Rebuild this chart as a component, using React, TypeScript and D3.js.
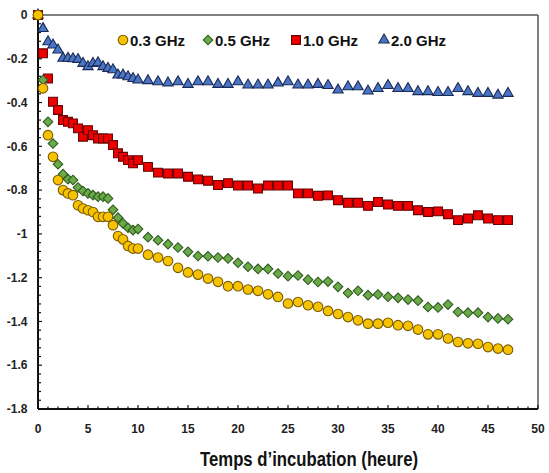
import React from "react";
import * as d3 from "d3";

const times: number[] = [
  0, 0.5, 1, 1.5, 2, 2.5, 3, 3.5, 4, 4.5, 5, 5.5, 6, 6.5, 7, 7.5, 8, 8.5, 9, 9.5, 10,
  11, 12, 13, 14, 15, 16, 17, 18, 19, 20, 21, 22, 23, 24, 25, 26, 27, 28, 29, 30,
  31, 32, 33, 34, 35, 36, 37, 38, 39, 40, 41, 42, 43, 44, 45, 46, 47,
];

const ghz03: number[] = [
  0, -0.335, -0.549, -0.648, -0.754, -0.8, -0.815, -0.823, -0.869, -0.884, -0.892, -0.9, -0.922, -0.922, -0.922, -0.96, -1.01, -1.025, -1.055, -1.067, -1.067,
  -1.095, -1.108, -1.124, -1.155, -1.176, -1.186, -1.204, -1.219, -1.239, -1.239, -1.254, -1.26, -1.276, -1.288, -1.318, -1.311, -1.326, -1.333, -1.352, -1.366,
  -1.38, -1.395, -1.41, -1.41, -1.406, -1.417, -1.42, -1.437, -1.459, -1.459, -1.478, -1.494, -1.5, -1.502, -1.517, -1.524, -1.529,
];

const ghz05: number[] = [
  0, -0.297, -0.488, -0.587, -0.682, -0.727, -0.75, -0.754, -0.788, -0.804, -0.815, -0.823, -0.83, -0.83, -0.838, -0.89, -0.926, -0.952, -0.972, -0.983, -0.978,
  -1.015, -1.029, -1.047, -1.062, -1.082, -1.101, -1.102, -1.108, -1.112, -1.132, -1.15, -1.16, -1.16, -1.181, -1.193, -1.19, -1.209, -1.22, -1.218, -1.242,
  -1.27, -1.26, -1.28, -1.277, -1.287, -1.292, -1.3, -1.305, -1.334, -1.336, -1.323, -1.357, -1.36, -1.36, -1.38, -1.386, -1.39,
];

const ghz10: number[] = [
  0, -0.175, -0.29, -0.396, -0.434, -0.48, -0.488, -0.495, -0.518, -0.556, -0.526, -0.549, -0.564, -0.564, -0.564, -0.594, -0.632, -0.648, -0.663, -0.678, -0.663,
  -0.694, -0.72, -0.724, -0.724, -0.739, -0.751, -0.757, -0.777, -0.768, -0.779, -0.779, -0.793, -0.779, -0.779, -0.779, -0.815, -0.815, -0.826, -0.824, -0.846,
  -0.858, -0.858, -0.872, -0.854, -0.866, -0.872, -0.872, -0.892, -0.9, -0.897, -0.91, -0.937, -0.93, -0.915, -0.93, -0.937, -0.937,
];

const ghz20: number[] = [
  0, -0.062, -0.122, -0.137, -0.16, -0.198, -0.198, -0.2, -0.203, -0.221, -0.236, -0.221, -0.218, -0.236, -0.244, -0.25, -0.274, -0.274, -0.282, -0.29, -0.297,
  -0.3, -0.305, -0.31, -0.305, -0.317, -0.305, -0.305, -0.317, -0.317, -0.305, -0.32, -0.32, -0.32, -0.311, -0.305, -0.32, -0.32, -0.317, -0.322, -0.343,
  -0.328, -0.328, -0.347, -0.336, -0.322, -0.336, -0.336, -0.35, -0.35, -0.354, -0.354, -0.336, -0.35, -0.358, -0.358, -0.366, -0.358,
];

const seriesNames: string[] = ["0.3 GHz", "0.5 GHz", "1.0 GHz", "2.0 GHz"];
const xTicks: number[] = [0, 5, 10, 15, 20, 25, 30, 35, 40, 45, 50];
const yTicks: number[] = [0, -0.2, -0.4, -0.6, -0.8, -1, -1.2, -1.4, -1.6, -1.8];
const yTickLabels: string[] = ["0", "-0.2", "-0.4", "-0.6", "-0.8", "-1", "-1.2", "-1.4", "-1.6", "-1.8"];
const xTitle = "Temps d’incubation (heure)";

const W = 549;
const H = 473;
const left = 38, right = 538, top = 15, bottom = 409;

const styles = [
  { shape: "circle", fill: "#F7C200", stroke: "#7A5A00" },
  { shape: "diamond", fill: "#6AAA48", stroke: "#2F5A1E" },
  { shape: "square", fill: "#EE0000", stroke: "#6A0000" },
  { shape: "triangle", fill: "#4A74C4", stroke: "#1A2A55" },
];

function symbolPath(shape: string): string {
  if (shape === "circle") return d3.symbol(d3.symbolCircle, 72)()!;
  if (shape === "square") return d3.symbol(d3.symbolSquare, 78)()!;
  if (shape === "diamond") return d3.symbol(d3.symbolSquare, 46)()!;
  return d3.symbol(d3.symbolTriangle, 46)()!;
}

export default function App() {
  const x = d3.scaleLinear().domain([0, 50]).range([left, right]);
  const y = d3.scaleLinear().domain([-1.8, 0]).range([bottom, top]);
  const data = [ghz03, ghz05, ghz10, ghz20];
  const drawOrder = [3, 2, 1, 0];

  const xMinor = d3.range(0, 51, 1);
  const yMinor = d3.range(0, 46, 1).map((i) => -i * 0.04);

  const legendX = [123, 208, 296, 384];
  const legendY = 40;

  return (
    <svg
      width={W}
      height={H}
      style={{ position: "absolute", left: 0, top: 0, background: "#fff" }}
      fontFamily="'Liberation Sans', Arial, sans-serif"
    >
      <rect x={0} y={0} width={W} height={H} fill="#fff" />
      {/* frame */}
      <line x1={left} y1={top} x2={right} y2={top} stroke="#555" strokeWidth={1.5} />
      <line x1={right} y1={top} x2={right} y2={bottom} stroke="#555" strokeWidth={1.5} />
      {/* minor ticks */}
      {xMinor.map((t) => (
        <line key={"xm" + t} x1={x(t)} x2={x(t)} y1={bottom} y2={bottom - (t % 5 === 0 ? 4 : 2.5)} stroke="#111" strokeWidth={1.2} />
      ))}
      {yMinor.map((v, i) => (
        <line key={"ym" + i} x1={left} x2={left + (i % 5 === 0 ? 4 : 3)} y1={y(v)} y2={y(v)} stroke="#111" strokeWidth={1.2} />
      ))}
      <line x1={left} y1={top} x2={left} y2={bottom} stroke="#111" strokeWidth={2} />
      <line x1={left} y1={bottom} x2={right} y2={bottom} stroke="#111" strokeWidth={2} />
      {/* tick labels */}
      {yTicks.map((v, i) => (
        <text key={"yl" + i} x={27.5} y={y(v)} dy="0.35em" textAnchor="end" fontSize={12} fontWeight="bold" fill="#222">
          {yTickLabels[i]}
        </text>
      ))}
      {xTicks.map((t) => (
        <text key={"xl" + t} x={x(t)} y={433} textAnchor="middle" fontSize={12} fontWeight="bold" fill="#222">
          {t}
        </text>
      ))}
      <text
        x={200}
        y={466}
        fontSize={21}
        fontWeight="bold"
        fontFamily="'Liberation Sans Narrow', 'Arial Narrow', 'Liberation Sans', sans-serif"
        textLength={218}
        lengthAdjust="spacingAndGlyphs"
        fill="#111"
      >
        {xTitle}
      </text>
      {/* series */}
      {drawOrder.map((si) => {
        const st = styles[si];
        const p = symbolPath(st.shape);
        const rot = st.shape === "diamond" ? " rotate(45)" : "";
        return (
          <g key={"s" + si}>
            {data[si].map((v, i) => (
              <path
                key={i}
                d={p}
                transform={`translate(${x(times[i])},${y(v)})${rot}`}
                fill={st.fill}
                stroke={st.stroke}
                strokeWidth={1.1}
              />
            ))}
          </g>
        );
      })}
      {/* legend */}
      {seriesNames.map((name, i) => {
        const st = styles[i];
        const rot = st.shape === "diamond" ? " rotate(45)" : "";
        return (
          <g key={"lg" + i}>
            <path d={symbolPath(st.shape)} transform={`translate(${legendX[i]},${legendY})${rot}`} fill={st.fill} stroke={st.stroke} strokeWidth={1.1} />
            <text x={legendX[i] + 7} y={legendY + 5.5} fontSize={15} fontWeight="bold" fill="#111">
              {name}
            </text>
          </g>
        );
      })}
    </svg>
  );
}
